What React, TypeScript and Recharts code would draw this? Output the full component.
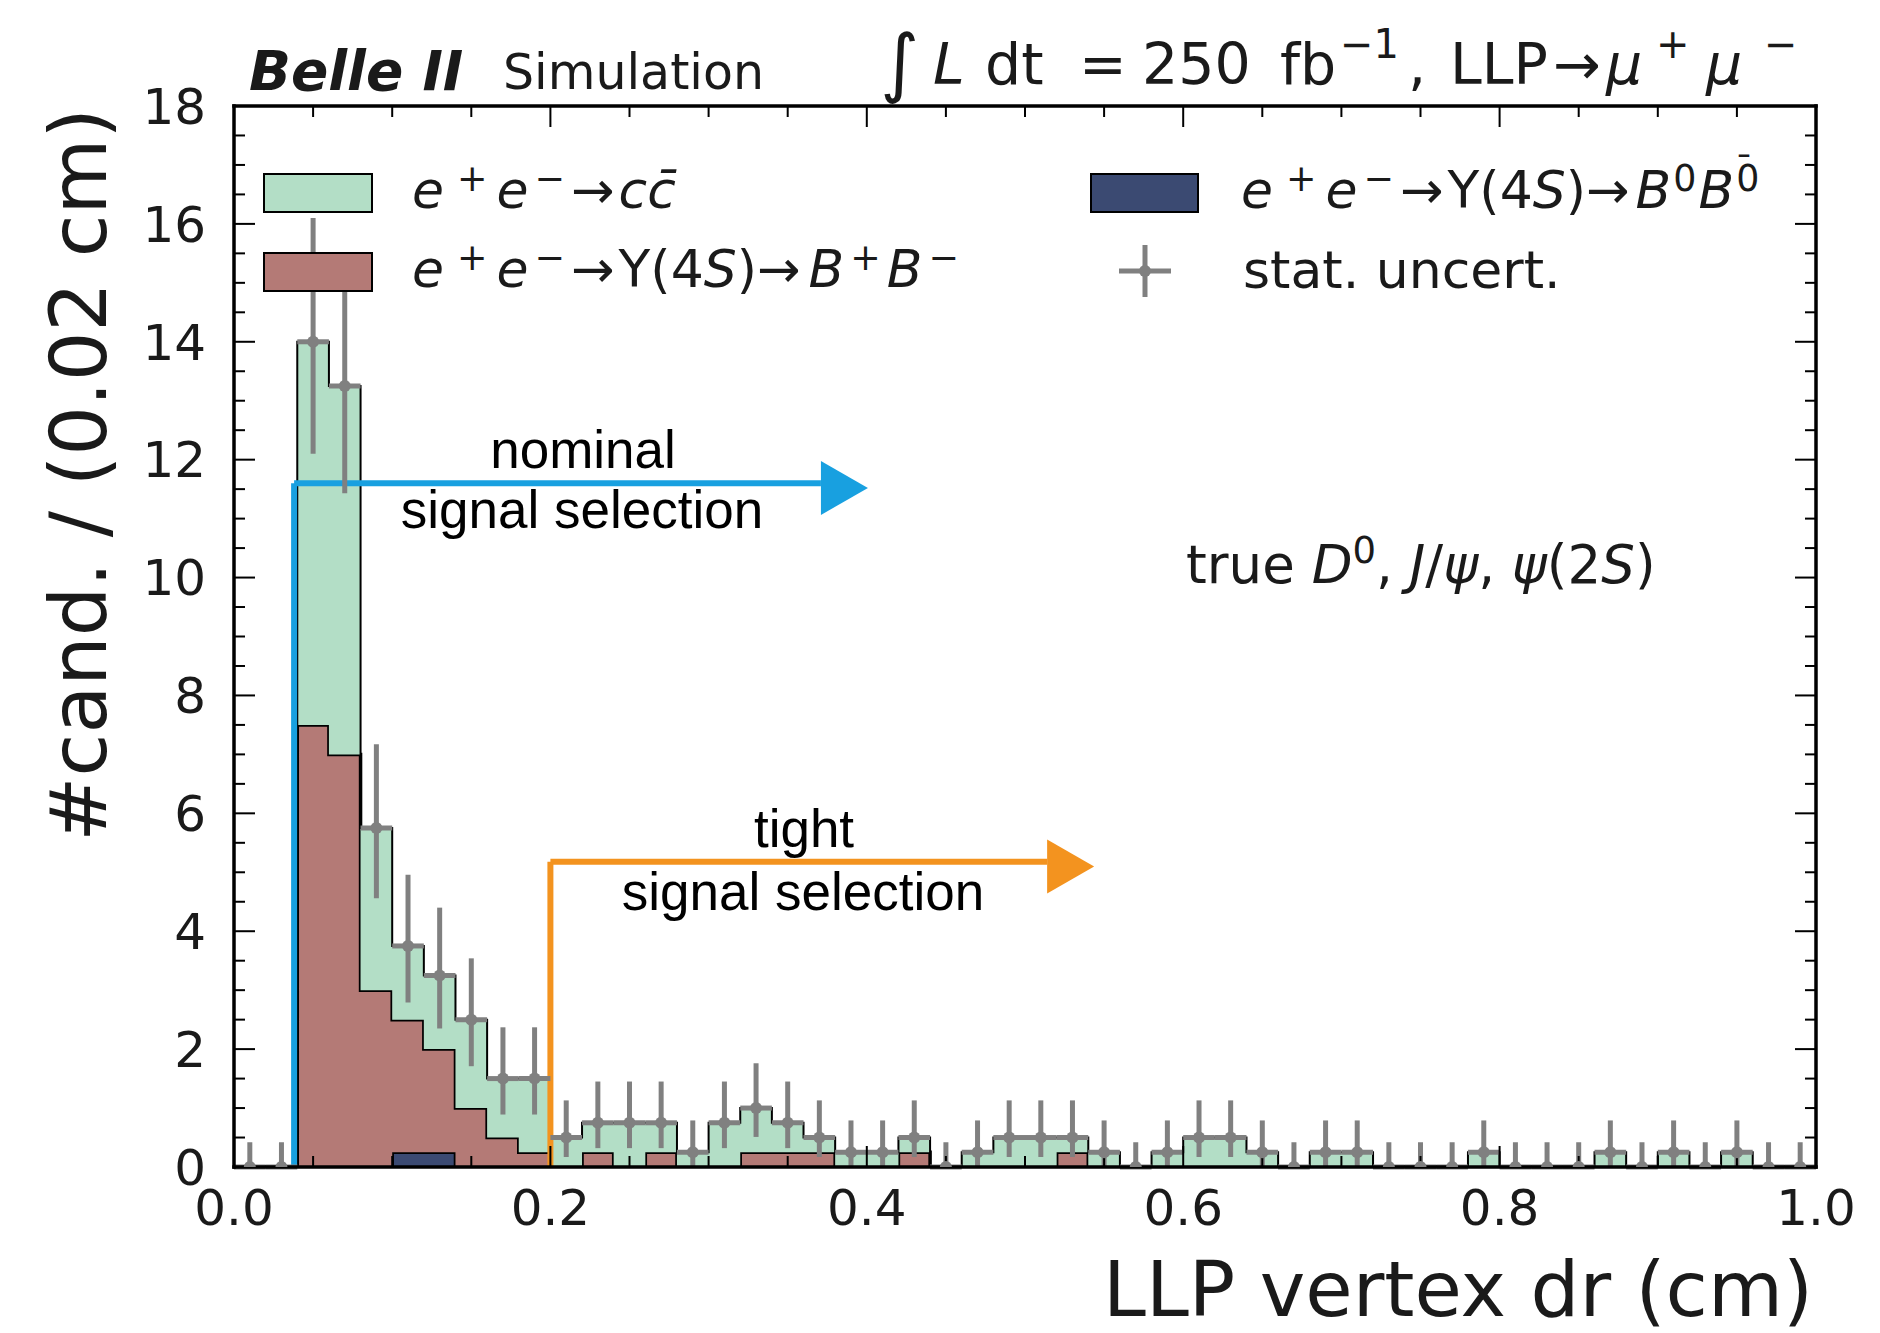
import React from "react";
import {
  ComposedChart,
  Area,
  Scatter,
  ErrorBar,
  XAxis,
  YAxis,
  ReferenceLine,
  ReferenceDot,
} from "recharts";

// bin width of the LLP vertex dr histogram (cm)
const BIN_W = 0.02;

// stacked contributions per bin, 0.00 .. 1.00 cm
const ccBins = [
  0, 0, 6.5, 6.25, 2.75, 1.25, 1.25, 1.5, 1.0, 1.25,
  0.5, 0.5, 0.75, 0.5, 0.25, 0.75, 0.75, 0.5, 0.25, 0.25,
  0.25, 0.25, 0, 0.25, 0.5, 0.5, 0.25, 0.25, 0, 0.25,
  0.5, 0.5, 0.25, 0, 0.25, 0.25, 0, 0, 0, 0.25,
  0, 0, 0, 0.25, 0, 0.25, 0, 0.25, 0, 0,
];
const bpBins = [
  0, 0, 7.5, 7.0, 3.0, 2.25, 1.75, 1.0, 0.5, 0.25,
  0, 0.25, 0, 0.25, 0, 0, 0.25, 0.25, 0.25, 0,
  0, 0.25, 0, 0, 0, 0, 0.25, 0, 0, 0,
  0, 0, 0, 0, 0, 0, 0, 0, 0, 0,
  0, 0, 0, 0, 0, 0, 0, 0, 0, 0,
];
const b0Bins = [
  0, 0, 0, 0, 0, 0.25, 0.25, 0, 0, 0,
  0, 0, 0, 0, 0, 0, 0, 0, 0, 0,
  0, 0, 0, 0, 0, 0, 0, 0, 0, 0,
  0, 0, 0, 0, 0, 0, 0, 0, 0, 0,
  0, 0, 0, 0, 0, 0, 0, 0, 0, 0,
];

// lower / upper end of the stat. uncertainty bars
const errLo = [
  0, 0, 12.1, 11.43, 4.56, 2.79, 2.35, 1.71, 0.89, 0.89,
  0.17, 0.32, 0.32, 0.32, 0, 0.32, 0.51, 0.32, 0.17, 0,
  0, 0.17, 0, 0, 0.17, 0.17, 0.17, 0, 0, 0,
  0.17, 0.17, 0, 0, 0, 0, 0, 0, 0, 0,
  0, 0, 0, 0, 0, 0, 0, 0, 0, 0,
];
const errHi = [
  0.42, 0.42, 16.1, 15.1, 7.17, 4.96, 4.4, 3.54, 2.37, 2.37,
  1.13, 1.45, 1.45, 1.45, 0.79, 1.45, 1.76, 1.45, 1.13, 0.79,
  0.79, 1.13, 0.42, 0.79, 1.13, 1.13, 1.13, 0.79, 0.42, 0.79,
  1.13, 1.13, 0.79, 0.42, 0.79, 0.79, 0.42, 0.42, 0.42, 0.79,
  0.42, 0.42, 0.42, 0.79, 0.42, 0.79, 0.42, 0.79, 0.42, 0.42,
];

const xMajor = [0, 0.2, 0.4, 0.6, 0.8, 1.0];
const xMinor = [0.05, 0.1, 0.15, 0.25, 0.3, 0.35, 0.45, 0.5, 0.55, 0.65, 0.7, 0.75, 0.85, 0.9, 0.95];
const yMajor = [0, 2, 4, 6, 8, 10, 12, 14, 16, 18];
const yMinor = [
  0.5, 1, 1.5, 2.5, 3, 3.5, 4.5, 5, 5.5, 6.5, 7, 7.5, 8.5, 9, 9.5,
  10.5, 11, 11.5, 12.5, 13, 13.5, 14.5, 15, 15.5, 16.5, 17, 17.5,
];

// hand-drawn selection arrows (data coords)
const nominalArrow = { x: 0.038, y: 11.6, headX: 0.371, headY: 11.52 };
const tightArrow = { x: 0.2, y: 5.18, headX: 0.514, headY: 5.1 };

const GREEN = "#b3dec6";
const RED = "#b47a76";
const NAVY = "#3b4a72";
const GREY = "#808080";
const BLUE = "#18a0e0";
const ORANGE = "#f3931f";
const INK = "#1a1a1a";
const FONT = "'DejaVu Sans', sans-serif";
const SANS = "'Liberation Sans', Arial, sans-serif";

const histData = Array.from({ length: ccBins.length + 1 }, (_, i) => {
  const j = Math.min(i, ccBins.length - 1);
  return { x: +(i * BIN_W).toFixed(2), b0: b0Bins[j], bp: bpBins[j], cc: ccBins[j] };
});

const points = ccBins.map((c, i) => {
  const tot = c + bpBins[i] + b0Bins[i];
  return { x: (i + 0.5) * BIN_W, y: tot, ey: [tot - errLo[i], errHi[i] - tot], ex: BIN_W / 2 };
});

const noLabel = () => <g />;

// tick-only axes drawn inside the frame (matplotlib direction="in")
const mirrorX = (id: string, orientation: "top" | "bottom", ticks: number[], size: number, frame: boolean) => (
  <XAxis
    key={id}
    xAxisId={id}
    dataKey="x"
    orientation={orientation}
    mirror
    type="number"
    domain={[0, 1]}
    allowDataOverflow
    ticks={ticks}
    interval={0}
    height={1}
    tick={noLabel}
    tickSize={size}
    tickLine={{ stroke: "#000", strokeWidth: 2 }}
    axisLine={frame ? { stroke: "#000", strokeWidth: 3.5, strokeLinecap: "square" } : false}
  />
);

const mirrorY = (id: string, orientation: "left" | "right", ticks: number[], size: number, frame: boolean) => (
  <YAxis
    key={id}
    yAxisId={id}
    orientation={orientation}
    mirror
    type="number"
    domain={[0, 18]}
    allowDataOverflow
    ticks={ticks}
    interval={0}
    width={1}
    tick={noLabel}
    tickSize={size}
    tickLine={{ stroke: "#000", strokeWidth: 2 }}
    axisLine={frame ? { stroke: "#000", strokeWidth: 3.5, strokeLinecap: "square" } : false}
  />
);

const arrowHead = (color: string) => (p: any) => (
  <polygon
    points={`${p.cx},${p.cy - 27} ${p.cx + 47},${p.cy} ${p.cx},${p.cy + 27}`}
    fill={color}
  />
);

type Piece = { t: string; it?: boolean; sup?: boolean; dx?: number };

function Flow({ x, y, size, pieces, shift = 17 }: { x: number; y: number; size: number; pieces: Piece[]; shift?: number }) {
  let cur = 0;
  return (
    <text x={x} y={y} fontSize={size} fontFamily={FONT} fill={INK}>
      {pieces.map((p, k) => {
        const target = p.sup ? -shift : 0;
        const dy = target - cur;
        cur = target;
        return (
          <tspan key={k} dx={p.dx ?? 0} dy={dy} fontSize={p.sup ? size * 0.7 : size} fontStyle={p.it ? "italic" : "normal"}>
            {p.t}
          </tspan>
        );
      })}
    </text>
  );
}

const eePieces: Piece[] = [
  { t: "e", it: true }, { t: "+", sup: true, dx: 13 }, { t: "e", it: true, dx: 9 },
  { t: "−", sup: true, dx: 6 }, { t: "→", dx: 6 },
];
const legL1: Piece[] = [...eePieces, { t: "c", it: true, dx: 4 }, { t: "c\u0304", it: true }];
const legL2: Piece[] = [
  ...eePieces, { t: "Υ", dx: 4 }, { t: "(4" }, { t: "S", it: true }, { t: ")→" },
  { t: "B", it: true, dx: 8 }, { t: "+", sup: true, dx: 6 }, { t: "B", it: true, dx: 6 }, { t: "−", sup: true, dx: 6 },
];
const legR1: Piece[] = [
  ...eePieces, { t: "Υ", dx: 4 }, { t: "(4" }, { t: "S", it: true }, { t: ")→" },
  { t: "B", it: true, dx: 6 }, { t: "0", sup: true, dx: 2 }, { t: "B", it: true, dx: 2 }, { t: "0", sup: true, dx: 2 },
];

type Tok = [string, number, boolean?, boolean?]; // text, x, superscript, italic
const titleR: Tok[] = [
  ["L", 933, false, true], ["dt", 985], ["=", 1079], ["250", 1142], ["fb", 1280], ["−1", 1340, true],
  [",", 1408], ["LLP", 1450], ["→", 1553], ["μ", 1606, false, true], ["+", 1656, true],
  ["μ", 1706, false, true], ["−", 1764, true],
];

export default function App() {
  return (
    <div style={{ position: "absolute", left: 0, top: 0, width: 1880, height: 1333, background: "#fff" }}>
      <ComposedChart width={1880} height={1333} data={histData} margin={{ top: 106, right: 64, bottom: 106, left: 134 }}>
        <XAxis
          xAxisId="main"
          dataKey="x"
          type="number"
          domain={[0, 1]}
          allowDataOverflow
          ticks={xMajor}
          interval={0}
          tickFormatter={(v: number) => v.toFixed(1)}
          axisLine={false}
          tickLine={false}
          tickSize={0}
          tickMargin={22}
          height={60}
          tick={{ fontSize: 50, fill: INK, fontFamily: FONT }}
        />
        <YAxis
          yAxisId="main"
          type="number"
          domain={[0, 18]}
          allowDataOverflow
          ticks={yMajor}
          interval={0}
          axisLine={false}
          tickLine={false}
          tickSize={0}
          tickMargin={28}
          width={100}
          tick={{ fontSize: 50, fill: INK, fontFamily: FONT }}
        />
        {mirrorX("bMaj", "bottom", xMajor, 21, true)}
        {mirrorX("bMin", "bottom", xMinor, 10, false)}
        {mirrorX("tMaj", "top", xMajor, 21, true)}
        {mirrorX("tMin", "top", xMinor, 10, false)}
        {mirrorY("lMaj", "left", yMajor, 21, true)}
        {mirrorY("lMin", "left", yMinor, 10, false)}
        {mirrorY("rMaj", "right", yMajor, 21, true)}
        {mirrorY("rMin", "right", yMinor, 10, false)}

        <Area xAxisId="main" yAxisId="main" type="stepAfter" dataKey="b0" stackId="h" fill={NAVY} fillOpacity={1} stroke="#000" strokeWidth={3.5} isAnimationActive={false} />
        <Area xAxisId="main" yAxisId="main" type="stepAfter" dataKey="bp" stackId="h" fill={RED} fillOpacity={1} stroke="#000" strokeWidth={3.5} isAnimationActive={false} />
        <Area xAxisId="main" yAxisId="main" type="stepAfter" dataKey="cc" stackId="h" fill={GREEN} fillOpacity={1} stroke="#000" strokeWidth={2} isAnimationActive={false} />

        <ReferenceLine xAxisId="main" yAxisId="main" segment={[{ x: nominalArrow.x, y: 0 }, { x: nominalArrow.x, y: nominalArrow.y }]} stroke={BLUE} strokeWidth={6} ifOverflow="visible" />
        <ReferenceLine xAxisId="main" yAxisId="main" segment={[{ x: nominalArrow.x, y: nominalArrow.y }, { x: nominalArrow.headX, y: nominalArrow.y }]} stroke={BLUE} strokeWidth={6} ifOverflow="visible" />
        <ReferenceDot xAxisId="main" yAxisId="main" x={nominalArrow.headX} y={nominalArrow.headY} r={1} shape={arrowHead(BLUE)} ifOverflow="visible" />
        <ReferenceLine xAxisId="main" yAxisId="main" segment={[{ x: tightArrow.x, y: 0 }, { x: tightArrow.x, y: tightArrow.y }]} stroke={ORANGE} strokeWidth={6} ifOverflow="visible" />
        <ReferenceLine xAxisId="main" yAxisId="main" segment={[{ x: tightArrow.x, y: tightArrow.y }, { x: tightArrow.headX, y: tightArrow.y }]} stroke={ORANGE} strokeWidth={6} ifOverflow="visible" />
        <ReferenceDot xAxisId="main" yAxisId="main" x={tightArrow.headX} y={tightArrow.headY} r={1} shape={arrowHead(ORANGE)} ifOverflow="visible" />

        <Scatter
          xAxisId="main"
          yAxisId="main"
          data={points}
          dataKey="y"
          fill={GREY}
          isAnimationActive={false}
          shape={(p: any) => <circle cx={p.cx} cy={p.cy} r={6} fill={GREY} />}
        >
          <ErrorBar dataKey="ey" direction="y" width={0} stroke={GREY} strokeWidth={5} isAnimationActive={false} />
          <ErrorBar dataKey="ex" direction="x" width={0} stroke={GREY} strokeWidth={5} isAnimationActive={false} />
        </Scatter>
      </ComposedChart>

      <svg width={1880} height={1333} style={{ position: "absolute", left: 0, top: 0, pointerEvents: "none" }}>
        {/* titles */}
        <text x={249} y={90} fontSize={55} fontWeight="bold" fontStyle="italic" fontFamily={FONT} fill={INK}>Belle II</text>
        <text x={503} y={89} fontSize={49} fontFamily={FONT} fill={INK}>Simulation</text>
        <text x={880} y={88} fontSize={75} fontFamily={FONT} fill={INK}>∫</text>
        {titleR.map(([t, x, sup, it], k) => (
          <text key={k} x={x} y={sup ? 58 : 84} fontSize={sup ? 40 : 57} fontStyle={it ? "italic" : "normal"} fontFamily={FONT} fill={INK}>
            {t}
          </text>
        ))}

        {/* legend */}
        <rect x={264} y={174} width={108} height={38} fill={GREEN} stroke="#000" strokeWidth={2} />
        <rect x={264} y={253} width={108} height={38} fill={RED} stroke="#000" strokeWidth={2} />
        <rect x={1091} y={174} width={107} height={38} fill={NAVY} stroke="#000" strokeWidth={2} />
        <line x1={1145} y1={245} x2={1145} y2={297} stroke={GREY} strokeWidth={5} />
        <line x1={1119} y1={271} x2={1171} y2={271} stroke={GREY} strokeWidth={5} />
        <circle cx={1145} cy={271} r={6} fill={GREY} />
        <Flow x={412} y={208} size={52} pieces={legL1} />
        <Flow x={412} y={287} size={52} pieces={legL2} />
        <Flow x={1241} y={208} size={52} pieces={legR1} />
        <text x={1735} y={181} fontSize={36} fontFamily={FONT} fill={INK}>¯</text>
        <text x={1243} y={288} fontSize={52} fontFamily={FONT} fill={INK}>stat. uncert.</text>

        {/* annotations */}
        <text x={583} y={468} fontSize={53} fontFamily={SANS} textAnchor="middle" fill="#000">nominal</text>
        <text x={582} y={528} fontSize={53} fontFamily={SANS} textAnchor="middle" fill="#000">signal selection</text>
        <text x={804} y={847} fontSize={53} fontFamily={SANS} textAnchor="middle" fill="#000">tight</text>
        <text x={803} y={910} fontSize={53} fontFamily={SANS} textAnchor="middle" fill="#000">signal selection</text>
        <text x={1186} y={583} fontSize={53} fontFamily={FONT} fill={INK}>
          <tspan>true </tspan>
          <tspan fontStyle="italic">D</tspan>
          <tspan fontSize={37} dy={-20}>0</tspan>
          <tspan dy={20}>, </tspan>
          <tspan fontStyle="italic">J</tspan>
          <tspan>/</tspan>
          <tspan fontStyle="italic">ψ</tspan>
          <tspan>, </tspan>
          <tspan fontStyle="italic">ψ</tspan>
          <tspan>(2</tspan>
          <tspan fontStyle="italic">S</tspan>
          <tspan>)</tspan>
        </text>

        {/* axis labels */}
        <text x={1813} y={1316} fontSize={77} fontFamily={FONT} textAnchor="end" fill={INK}>LLP vertex dr (cm)</text>
        <text transform="translate(106,108) rotate(-90)" fontSize={78} fontFamily={FONT} textAnchor="end" fill={INK}>#cand. / (0.02 cm)</text>
      </svg>
    </div>
  );
}
